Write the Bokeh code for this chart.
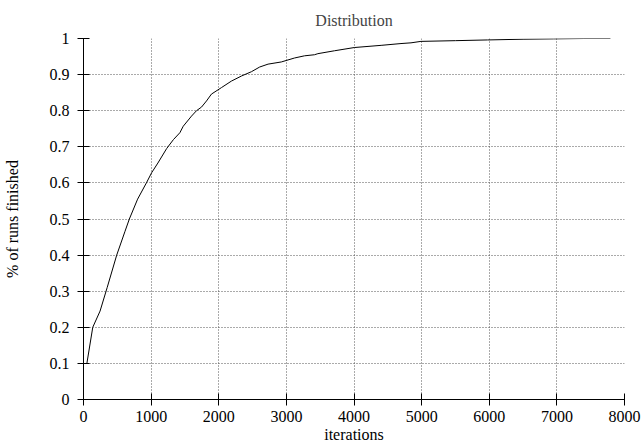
from bokeh.plotting import figure
from bokeh.models import FixedTicker, Range1d
from bokeh.embed import file_html
from bokeh.resources import INLINE

iterations = [50, 137, 245, 350, 491, 614, 678, 800, 930, 1007, 1100, 1229, 1330,
              1425, 1475, 1597, 1671, 1745, 1819, 1892, 2040, 2187, 2335, 2483,
              2605, 2729, 2925, 3121, 3268, 3416, 3466, 3711, 4006, 4401, 4695,
              4843, 4990, 5500, 5973, 6500, 6951, 7400, 7792]
finished = [0.10, 0.20, 0.245, 0.31, 0.40, 0.466, 0.50, 0.555, 0.60, 0.628, 0.655,
            0.695, 0.72, 0.739, 0.757, 0.785, 0.80, 0.81, 0.827, 0.846, 0.864,
            0.882, 0.896, 0.908, 0.921, 0.929, 0.935, 0.946, 0.952, 0.955, 0.958,
            0.966, 0.975, 0.981, 0.986, 0.988, 0.992, 0.994, 0.996, 0.998, 0.999,
            1.0, 1.0]

x_ticks = [0, 1000, 2000, 3000, 4000, 5000, 6000, 7000, 8000]
y_ticks = [0, 0.1, 0.2, 0.3, 0.4, 0.5, 0.6, 0.7, 0.8, 0.9, 1.0]
y_tick_labels = ["0", "0.1", "0.2", "0.3", "0.4", "0.5", "0.6", "0.7", "0.8", "0.9", "1"]

FONT = "Liberation Serif"

p = figure(width=643, height=445, output_backend="svg", toolbar_location=None,
           title="Distribution",
           x_range=Range1d(0, 8000), y_range=Range1d(0, 1),
           min_border_left=82, min_border_right=19, min_border_top=38,
           min_border_bottom=40)

p.line(iterations, finished, line_color="black", line_width=1)

p.title.align = "center"
p.title.text_font = FONT
p.title.text_font_size = "16px"
p.title.text_font_style = "normal"
p.title.standoff = 19

p.outline_line_color = None
p.background_fill_color = "white"
p.border_fill_color = "white"

p.xaxis.ticker = FixedTicker(ticks=x_ticks)
p.yaxis.ticker = FixedTicker(ticks=y_ticks)
p.yaxis.major_label_overrides = {t: l for t, l in zip(y_ticks, y_tick_labels)}
p.xaxis.major_label_overrides = {t: str(t) for t in x_ticks}

for ax in (p.xaxis, p.yaxis):
    ax.axis_line_color = "black"
    ax.axis_line_width = 1
    ax.major_tick_line_color = "black"
    ax.major_tick_in = 6
    ax.major_tick_out = 6
    ax.minor_tick_line_color = None
    ax.major_label_text_font = FONT
    ax.major_label_text_font_size = "16px"
    ax.major_label_text_color = "black"
    ax.axis_label_text_font = FONT
    ax.axis_label_text_font_size = "16px"
    ax.axis_label_text_font_style = "normal"
    ax.axis_label_text_color = "black"

p.xaxis.axis_label = "iterations"
p.yaxis.axis_label = "% of runs finished"
p.xaxis.major_label_standoff = 5
p.xaxis.axis_label_standoff = 1
p.yaxis.major_label_standoff = 8
p.yaxis.axis_label_standoff = 26

p.xgrid.ticker = FixedTicker(ticks=x_ticks)
p.ygrid.ticker = FixedTicker(ticks=y_ticks)
for g in (p.xgrid, p.ygrid):
    g.grid_line_color = "#555555"
    g.grid_line_dash = "1 2"
    g.grid_line_width = 1

open("out.html", "w").write(file_html(p, INLINE))
